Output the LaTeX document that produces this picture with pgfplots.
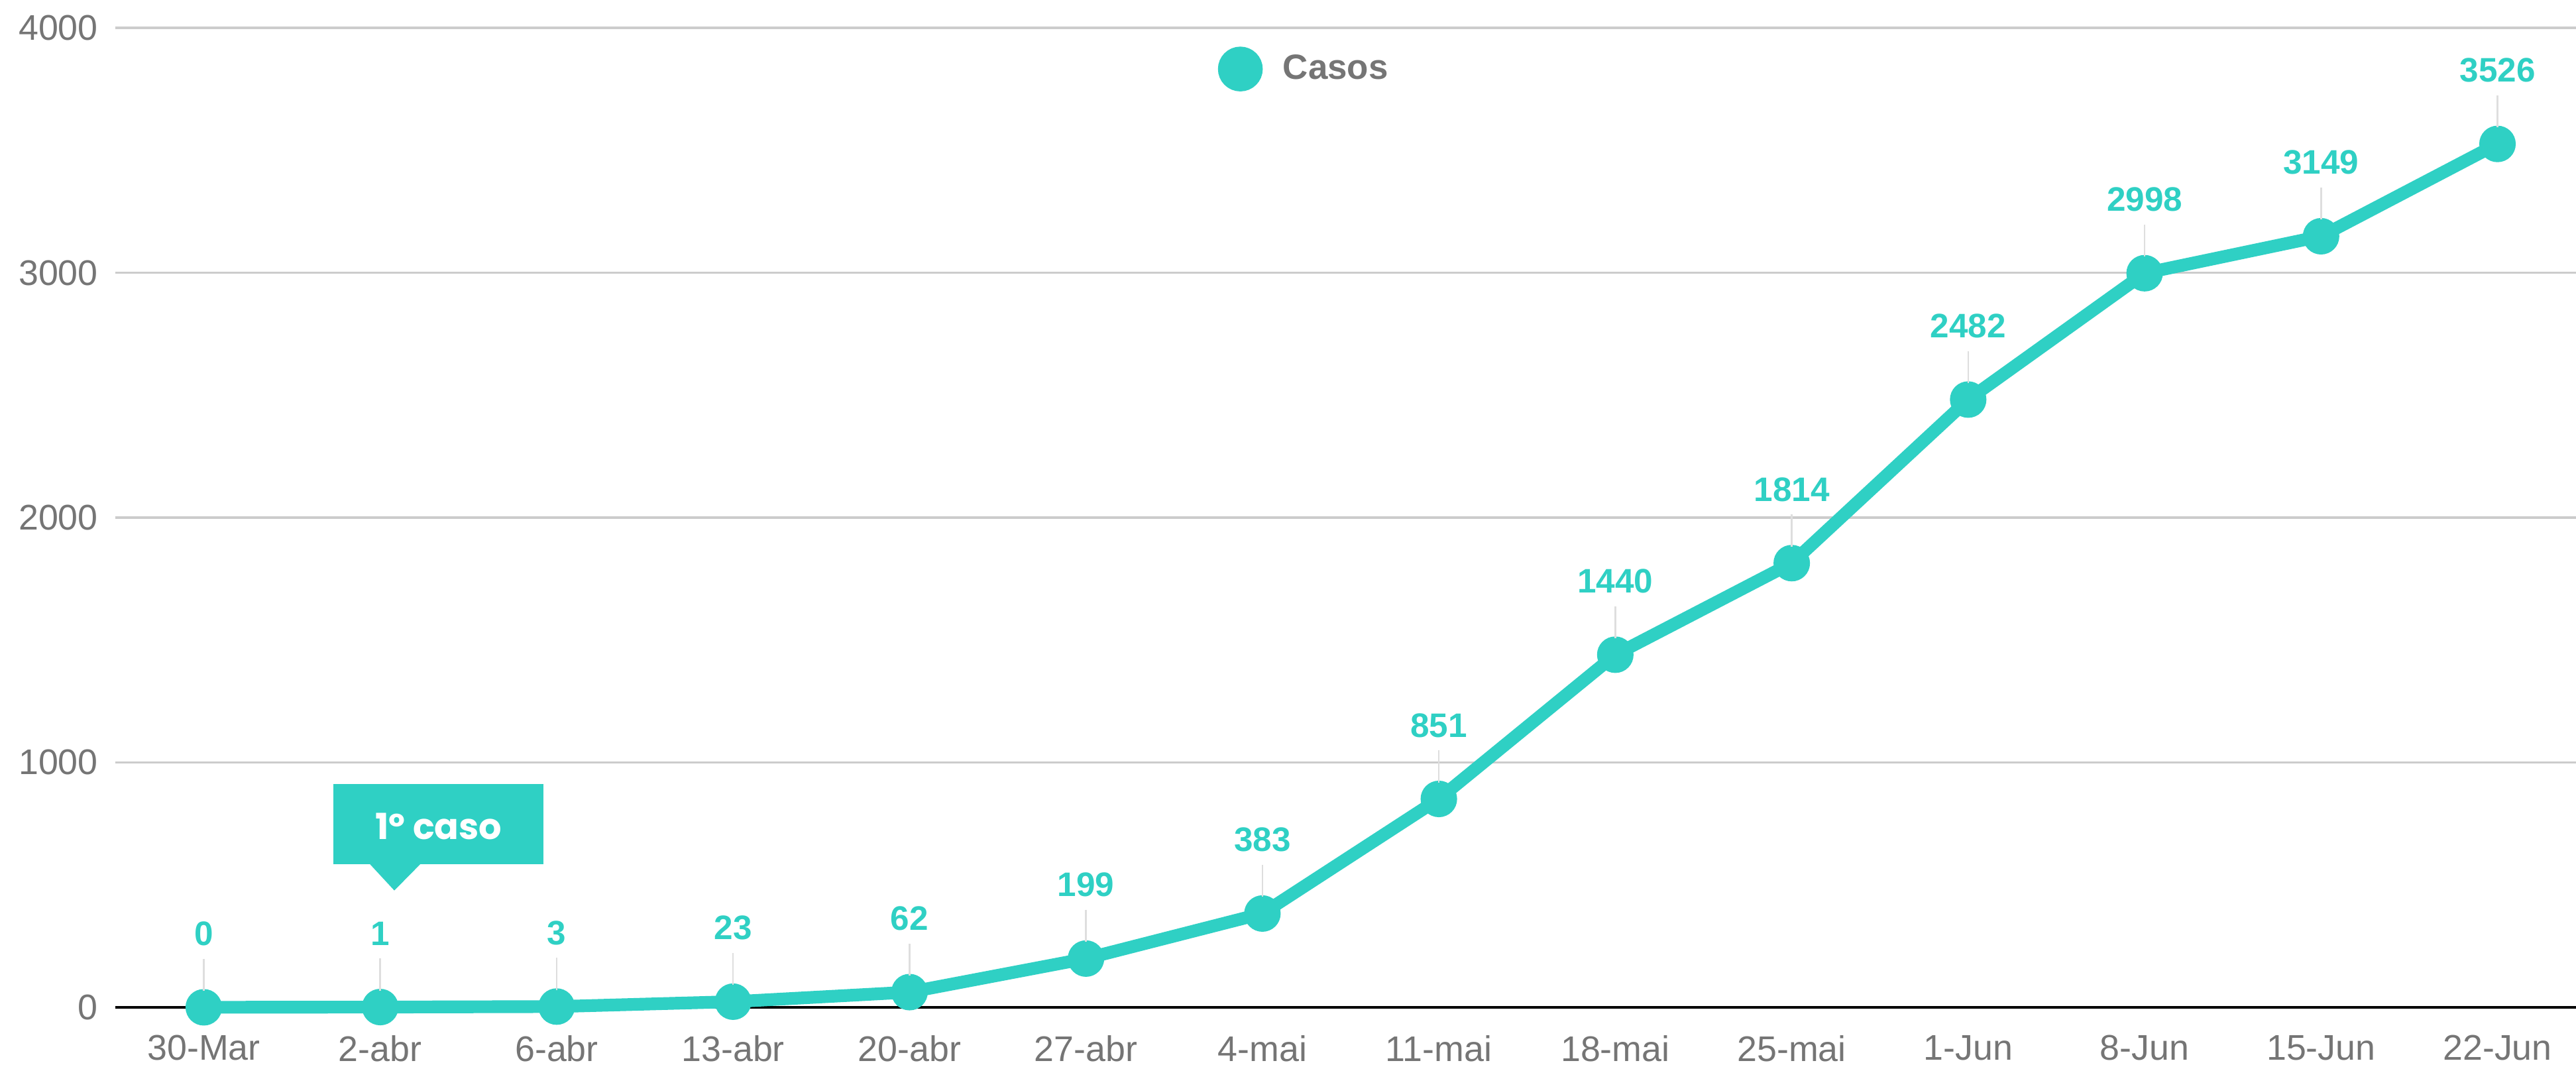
\documentclass[border=0pt]{standalone}
\usepackage{fontspec}
\setmainfont{Liberation Sans}
\newfontfamily\callfont{Poppins}
\usepackage{pgfplots}
\pgfplotsset{compat=1.18}
\definecolor{cTeal}{RGB}{47,208,196}
\definecolor{cLabel}{RGB}{117,117,117}
\definecolor{cGrid}{RGB}{204,204,204}
\definecolor{cLead}{RGB}{222,222,222}

\begin{document}
\begin{tikzpicture}
\begin{axis}[
  name=ax,
  scale only axis, width=891pt, height=354.6pt,
  xmin=-0.503, xmax=13.445, ymin=0, ymax=4000,
  xtick={0,...,13},
  xticklabels={30-Mar,2-abr,6-abr,13-abr,20-abr,27-abr,4-mai,11-mai,18-mai,25-mai,1-Jun,8-Jun,15-Jun,22-Jun},
  ytick={0,1000,2000,3000,4000},
  ymajorgrids, grid style={cGrid, line width=0.9pt},
  axis x line*=bottom, axis y line*=left,
  x axis line style={black, line width=0.9pt, -},
  y axis line style={draw=none},
  major tick length=0pt,
  tick label style={font=\fontsize{12.9}{15}\selectfont, text=cLabel},
  xticklabel style={anchor=north, inner sep=0pt, yshift=-10pt},
  yticklabel style={anchor=east, inner sep=0pt, xshift=-6pt},
  /pgf/number format/assume math mode=true,
  /pgf/number format/1000 sep={},
  clip=false,
  legend style={at={(axis cs:5.745,3832)}, anchor=west, draw=none, fill=none,
    font=\bfseries\fontsize{12.7}{15}\selectfont, text=cLabel, inner sep=0pt,
    nodes={inner sep=0pt}},
  legend image code/.code={\fill[cTeal] (0pt,0pt) circle (5.8pt); \path (13.1pt,0pt);},
]
\addplot[cTeal, line width=4.6pt, mark=*, mark size=4.3pt,
  mark options={draw=none, fill=cTeal},
  nodes near coords,
  every node near coord/.append style={
    font=\bfseries\fontsize{12.3}{14}\selectfont, text=cTeal,
    anchor=south, inner sep=0pt, yshift=20pt,
    append after command={([yshift=-2.4pt]\tikzlastnode.south) edge[draw=cLead, line width=0.6pt] ([yshift=-14pt]\tikzlastnode.south)}},
] coordinates {
  (0,0) (1,1) (2,3) (3,23) (4,62) (5,199) (6,383)
  (7,851) (8,1440) (9,1814) (10,2482) (11,2998) (12,3149) (13,3526)
};
\addlegendentry{Casos}

% "1º caso" callout
\fill[cTeal] (axis cs:0.736,584) rectangle (axis cs:1.926,913);
\fill[cTeal] (axis cs:0.94,586) -- (axis cs:1.229,586) -- (axis cs:1.08,477) -- cycle;
\node[text=white, font=\callfont\bfseries\fontsize{13}{15}\selectfont] at (axis cs:1.331,738) {1º caso};
\end{axis}
\pgfresetboundingbox
\path ([shift={(-41.65pt,-21.4pt)}]ax.south west) rectangle ([shift={(0pt,10.1pt)}]ax.north east);
\end{tikzpicture}
\end{document}
